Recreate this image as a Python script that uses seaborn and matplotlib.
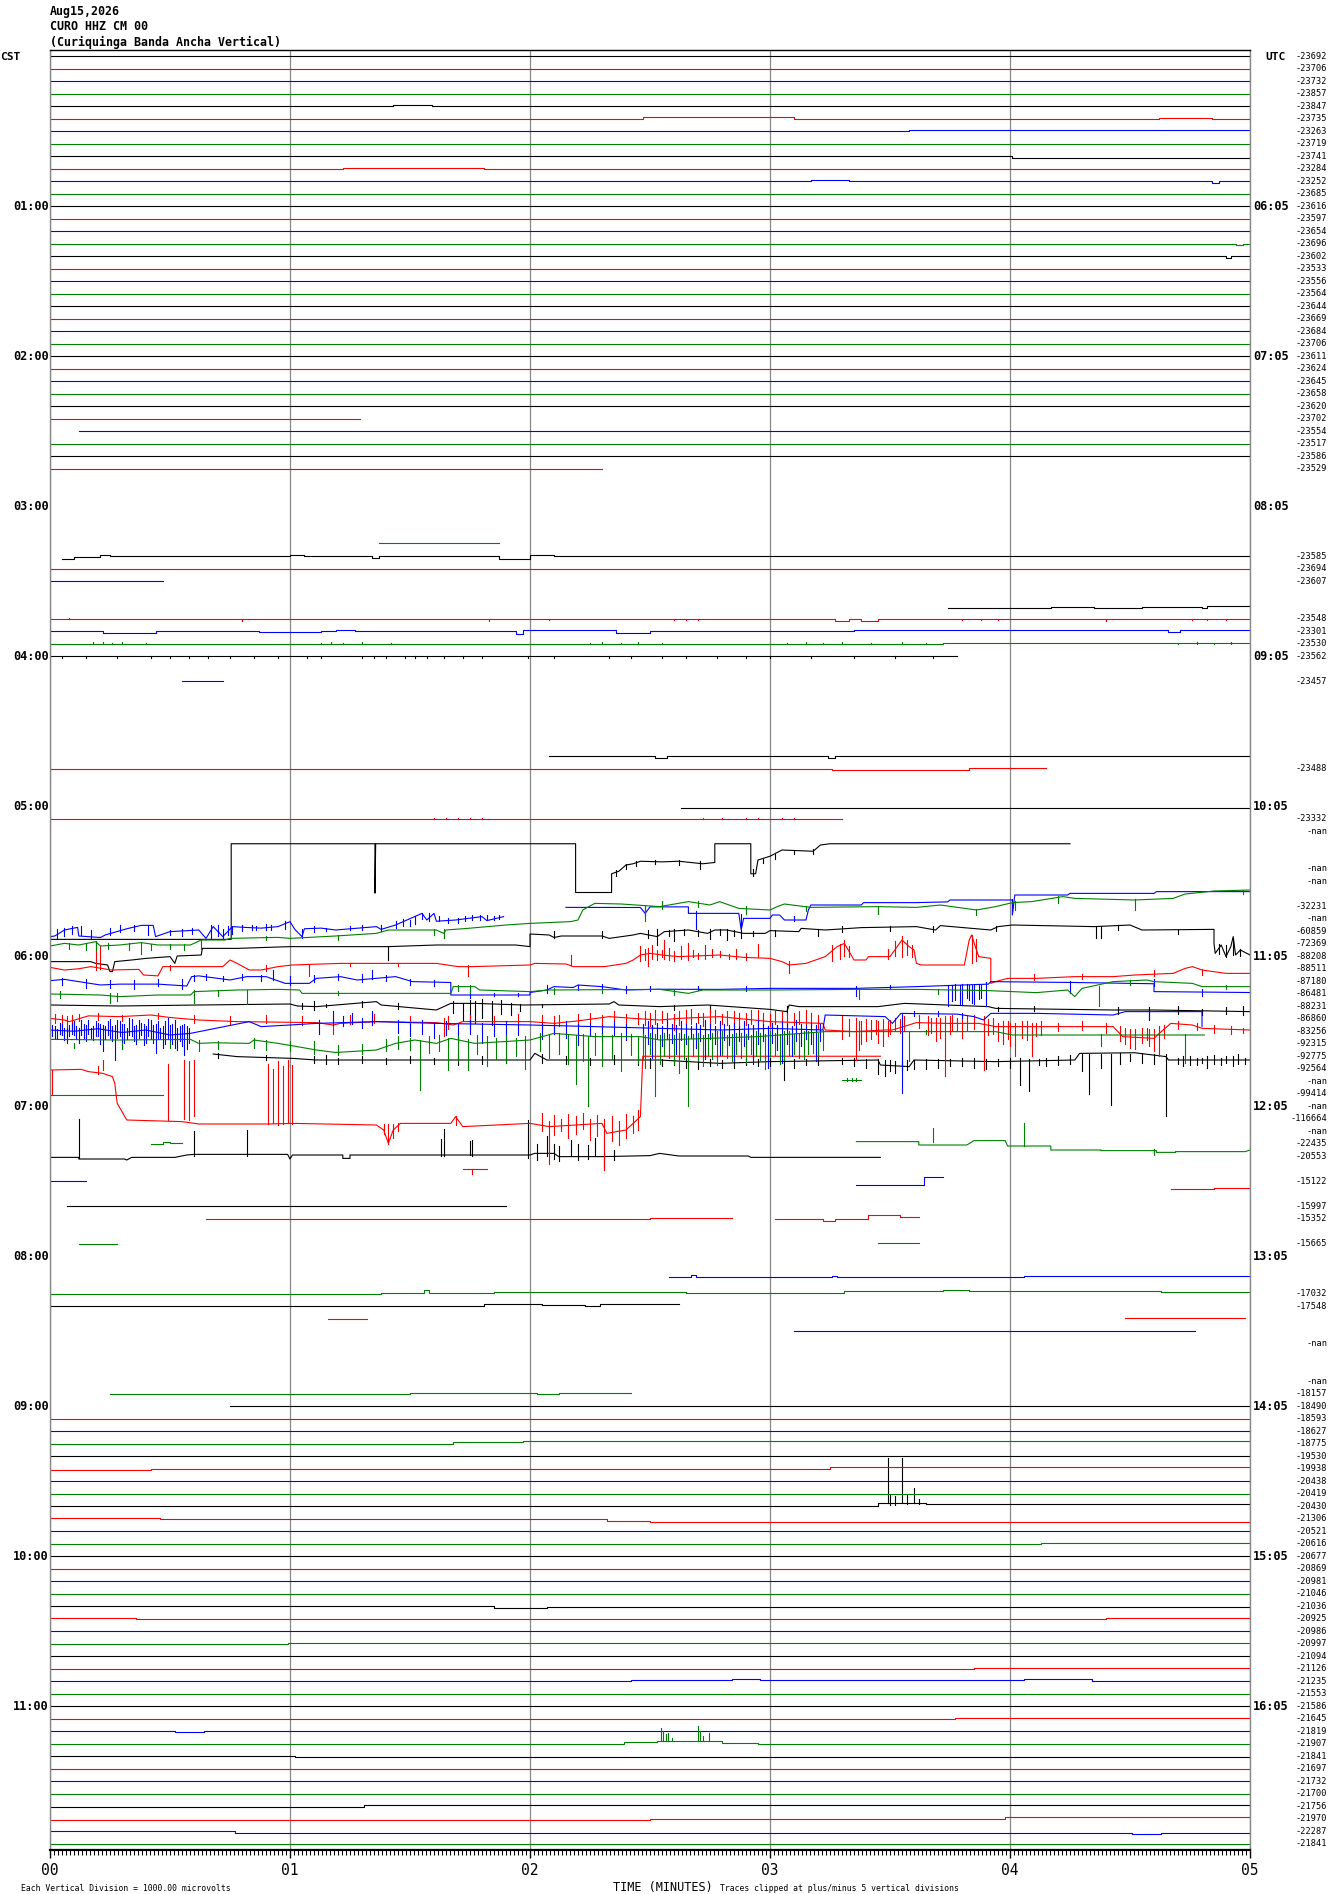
import numpy as np
import pandas as pd
import matplotlib
matplotlib.use("Agg")
import matplotlib.pyplot as plt
import seaborn as sns

W, H = 1330, 1894
MONO = "DejaVu Sans Mono"

title_lines = ["Aug15,2026", "CURO HHZ CM 00", "(Curiquinga Banda Ancha Vertical)"]
cst_labels = ["01:00", "02:00", "03:00", "04:00", "05:00", "06:00", "07:00",
              "08:00", "09:00", "10:00", "11:00"]
utc_labels = ["06:05", "07:05", "08:05", "09:05", "10:05", "11:05", "12:05",
              "13:05", "14:05", "15:05", "16:05"]
minute_labels = ["00", "01", "02", "03", "04", "05"]
trace_colors = ["black", "red", "blue", "green"]

right_values = [
    "-23692", "-23706", "-23732", "-23857", "-23847", "-23735", "-23263", "-23719",
    "-23741", "-23284", "-23252", "-23685", "-23616", "-23597", "-23654", "-23696",
    "-23602", "-23533", "-23556", "-23564", "-23644", "-23669", "-23684", "-23706",
    "-23611", "-23624", "-23645", "-23658", "-23620", "-23702", "-23554", "-23517",
    "-23586", "-23529", "", "", "", "", "", "",
    "-23585", "-23694", "-23607", "", "", "-23548", "-23301", "-23530",
    "-23562", "", "-23457", "", "", "", "", "",
    "", "-23488", "", "", "", "-23332", "-nan", "",
    "", "-nan", "-nan", "", "-32231", "-nan", "-60859", "-72369",
    "-88208", "-88511", "-87180", "-86481", "-88231", "-86860", "-83256", "-92315",
    "-92775", "-92564", "-nan", "-99414", "-nan", "-116664", "-nan", "-22435",
    "-20553", "", "-15122", "", "-15997", "-15352", "", "-15665",
    "", "", "", "-17032", "-17548", "", "", "-nan",
    "", "", "-nan", "-18157", "-18490", "-18593", "-18627", "-18775",
    "-19530", "-19938", "-20438", "-20419", "-20430", "-21306", "-20521", "-20616",
    "-20677", "-20869", "-20981", "-21046", "-21036", "-20925", "-20986", "-20997",
    "-21094", "-21126", "-21235", "-21553", "-21586", "-21645", "-21819", "-21907",
    "-21841", "-21697", "-21732", "-21700", "-21756", "-21970", "-22287", "-21841",
]

# rows that run flat across the whole five minutes
full_rows = [0, 1, 2, 3, 7, 11, 12, 13, 14, 17, 18, 19, 20, 21, 22, 23, 24, 25, 26,
             27, 28, 31, 32, 41, 109, 110, 112, 114, 115, 118, 120, 122, 123, 126,
             128, 131, 132, 137, 138, 139, 143]

# quiet pieces: (row, start minute, end minute, offset in divisions)
quiet_segments = [
    (4, 0, 1.43, 0), (4, 1.43, 1.59, -0.08), (4, 1.59, 5, 0),
    (5, 0, 2.47, 0), (5, 2.47, 3.1, -0.12), (5, 3.1, 4.62, 0), (5, 4.62, 4.84, -0.08), (5, 4.84, 5, 0),
    (6, 0, 3.58, 0), (6, 3.58, 5, -0.1),
    (8, 0, 4.01, 0), (8, 4.01, 5, 0.12),
    (9, 0, 1.22, 0), (9, 1.22, 1.81, -0.1), (9, 1.81, 5, 0),
    (10, 0, 3.17, 0), (10, 3.17, 3.33, -0.08), (10, 3.33, 4.84, 0), (10, 4.84, 4.87, 0.15), (10, 4.87, 5, 0),
    (15, 0, 4.94, 0), (15, 4.94, 4.97, 0.12), (15, 4.97, 5, 0),
    (16, 0, 4.9, 0), (16, 4.9, 4.92, 0.1), (16, 4.92, 5, 0),
    (29, 0, 1.29, 0), (30, 0.12, 5, 0), (33, 0, 2.30, 0),
    (39, 1.37, 1.87, -0.03),
    (40, 0.05, 0.1, 0.18), (40, 0.1, 0.21, 0.05), (40, 0.21, 0.25, -0.08), (40, 0.25, 1.0, 0),
    (40, 1.0, 1.06, -0.08), (40, 1.06, 1.34, 0), (40, 1.34, 1.37, 0.15), (40, 1.37, 1.87, 0),
    (40, 1.87, 2.0, 0.18), (40, 2.0, 2.1, -0.08), (40, 2.1, 5, 0),
    (42, 0, 0.47, 0),
    (44, 3.74, 4.17, 0.17), (44, 4.17, 4.35, 0.03), (44, 4.35, 4.55, 0.17), (44, 4.55, 4.8, 0.03),
    (44, 4.8, 4.82, 0.11), (44, 4.82, 5, 0.0),
    (45, 0, 3.27, 0), (45, 3.27, 3.33, 0.18), (45, 3.33, 3.38, 0.05), (45, 3.38, 3.45, 0.18), (45, 3.45, 5, 0),
    (46, 0, 0.22, 0), (46, 0.22, 0.44, 0.1), (46, 0.44, 0.87, 0), (46, 0.87, 1.13, 0.05),
    (46, 1.13, 1.19, -0.03), (46, 1.19, 1.27, -0.1), (46, 1.27, 1.94, 0), (46, 1.94, 1.97, 0.18),
    (46, 1.97, 2.36, -0.07), (46, 2.36, 2.5, 0.1), (46, 2.5, 3.35, 0), (46, 3.35, 3.52, -0.07),
    (46, 3.52, 4.66, -0.1), (46, 4.66, 4.71, 0.05), (46, 4.71, 5, -0.1),
    (47, 0, 3.72, 0.02), (47, 3.72, 5, -0.03),
    (48, 0, 3.78, 0),
    (50, 0.55, 0.72, 0),
    (56, 2.08, 2.52, 0), (56, 2.52, 2.57, 0.15), (56, 2.57, 3.24, 0), (56, 3.24, 3.27, 0.15), (56, 3.27, 5, 0),
    (57, 0, 3.26, 0.05), (57, 3.26, 3.83, 0.1), (57, 3.83, 4.15, -0.05),
    (60, 2.63, 5, 0.1),
    (61, 0, 3.30, 0),
    (83, 0, 0.47, 0.1), (83, 3.30, 3.38, -1.1),
    (87, 0.42, 0.47, 0.0), (87, 0.47, 0.50, -0.12), (87, 0.50, 0.55, -0.05),
    (89, 1.72, 1.82, 0.05),
    (90, 0, 0.15, 0), (90, 3.36, 3.64, 0.3), (90, 3.64, 3.72, -0.37),
    (92, 0.07, 1.90, 0),
    (93, 0.65, 2.5, 0.0), (93, 2.5, 2.84, -0.05), (93, 3.02, 3.22, 0.0), (93, 3.22, 3.27, 0.15),
    (93, 3.27, 3.41, 0.0), (93, 3.41, 3.54, -0.27), (93, 3.54, 3.62, -0.13), (93, 4.67, 4.85, -2.38),
    (93, 4.85, 5.0, -2.45),
    (95, 0.12, 0.28, 0), (95, 3.45, 3.62, -0.05),
    (98, 2.58, 2.67, -0.37), (98, 2.67, 2.69, -0.47), (98, 2.69, 3.26, -0.37), (98, 3.26, 3.28, -0.45),
    (98, 3.28, 4.06, -0.37), (98, 4.06, 4.3, -0.42), (98, 4.3, 5, -0.43),
    (99, 0, 1.38, 0.02), (99, 1.38, 1.56, -0.1), (99, 1.56, 1.58, -0.3), (99, 1.58, 1.85, -0.09),
    (99, 1.85, 2.65, -0.14), (99, 2.65, 3.18, -0.03), (99, 3.18, 3.31, -0.1), (99, 3.31, 3.72, -0.19),
    (99, 3.72, 3.83, -0.3), (99, 3.83, 4.63, -0.22), (99, 4.63, 5, -0.11),
    (100, 0, 1.81, 0), (100, 1.81, 2.05, -0.2), (100, 2.05, 2.23, -0.12), (100, 2.23, 2.29, -0.05),
    (100, 2.29, 2.62, -0.2),
    (101, 1.16, 1.32, 0.0), (101, 4.48, 4.98, -0.05),
    (102, 3.10, 3.36, 0.0), (102, 3.36, 3.60, -0.05), (102, 3.60, 4.36, 0.0), (102, 4.36, 4.77, -0.05),
    (107, 0.25, 1.50, 0.02), (107, 1.50, 2.03, -0.03), (107, 2.03, 2.12, 0.03), (107, 2.12, 2.42, -0.03),
    (108, 0.75, 5, 0),
    (111, 0, 1.68, 0.02), (111, 1.68, 1.97, -0.11), (111, 1.97, 5, -0.19),
    (113, 0, 0.42, 0.1), (113, 0.42, 3.25, 0), (113, 3.25, 5, -0.11),
    (116, 0, 3.45, 0), (116, 3.45, 3.65, -0.27), (116, 3.65, 3.96, -0.22), (116, 3.96, 5, -0.2),
    (117, 0, 0.46, -0.09), (117, 0.46, 2.32, 0.05), (117, 2.32, 2.50, 0.15), (117, 2.50, 5, 0.29),
    (119, 0, 4.13, 0), (119, 4.13, 5, -0.05),
    (121, 0, 3.46, 0.05), (121, 3.46, 5, 0),
    (124, 0, 1.85, 0), (124, 1.85, 2.07, 0.17), (124, 2.07, 5, 0.09),
    (125, 0, 0.36, -0.03), (125, 0.36, 4.40, 0.05), (125, 4.40, 5, -0.03),
    (127, 0, 0.99, 0.02), (127, 0.99, 5, -0.04),
    (129, 0, 3.85, 0.05), (129, 3.85, 5, -0.03),
    (130, 0, 2.42, 0.01), (130, 2.42, 2.84, -0.1), (130, 2.84, 2.96, -0.21), (130, 2.96, 4.06, -0.1),
    (130, 4.06, 4.34, -0.15), (130, 4.34, 5, -0.05),
    (133, 0, 3.77, 0.02), (133, 3.77, 5, -0.03),
    (134, 0, 0.16, 0.0), (134, 0.16, 0.52, -0.04), (134, 0.52, 0.64, 0.05), (134, 0.64, 2.21, 0.0),
    (134, 2.21, 2.31, -0.06), (134, 2.31, 5, 0.0),
    (135, 0, 2.39, 0.02), (135, 2.39, 2.53, -0.12), (135, 2.53, 2.80, -0.2), (135, 2.80, 2.95, -0.05),
    (135, 2.95, 5, 0.02),
    (136, 0, 1.0, 0), (136, 1.0, 1.02, -0.06), (136, 1.02, 1.70, 0.02), (136, 1.70, 1.80, 0.07),
    (136, 1.80, 5, 0.05),
    (140, 0, 1.31, 0.03), (140, 1.31, 5, -0.07),
    (141, 0, 2.50, 0.1), (141, 2.50, 3.98, 0.0), (141, 3.98, 5, -0.14),
    (142, 0, 0.77, -0.02), (142, 0.77, 4.51, 0.17), (142, 4.51, 4.63, 0.25), (142, 4.63, 5, 0.17),
]

# wandering traces: (minute, offset in divisions)
trace_68 = [(0.0, 2.65), (0.755, 2.65), (0.755, -5.0), (1.354, -5.0), (1.354, -1.05), (1.357, -5.0),
            (2.19, -5.0), (2.19, -1.1), (2.34, -1.1), (2.34, -2.6), (2.37, -2.8), (2.40, -3.3),
            (2.43, -3.4), (2.46, -3.6), (2.55, -3.55), (2.62, -3.6), (2.67, -3.5), (2.72, -3.4),
            (2.77, -3.5), (2.77, -5.0), (2.92, -5.0), (2.92, -2.6), (2.94, -2.6), (2.95, -3.7),
            (3.0, -4.0), (3.05, -4.5), (3.18, -4.4), (3.21, -4.9), (3.25, -5.0), (4.25, -5.0)]
trace_70 = [(0.0, 0.43), (0.02, 0.38), (0.06, -0.1), (0.115, -0.31), (0.12, 0.38), (0.21, 0.5),
            (0.23, 0.3), (0.32, -0.2), (0.38, -0.47), (0.43, -0.47), (0.44, 0.43), (0.5, 0.03),
            (0.62, -0.1), (0.65, 0.57), (0.68, -0.37), (0.72, 0.43), (0.76, -0.37), (0.82, -0.3),
            (0.88, -0.25), (0.95, -0.37), (1.0, -0.77), (1.02, -0.15), (1.05, 0.43), (1.06, -0.2),
            (1.13, -0.25), (1.19, -0.1), (1.36, -0.37), (1.38, -0.15), (1.44, -0.5), (1.55, -1.43),
            (1.57, -0.9), (1.6, -1.43), (1.61, -0.8), (1.69, -0.9), (1.8, -1.17), (1.82, -0.85),
            (1.89, -1.17)]
trace_70b = [(2.15, -1.91), (2.46, -1.9), (2.48, -1.43), (2.5, -1.95), (2.66, -1.95), (2.66, -1.43),
             (2.87, -1.43), (2.88, -0.1), (2.89, -1.03), (3.0, -1.03), (3.01, -1.3), (3.04, -1.3),
             (3.06, -0.9), (3.15, -0.9), (3.16, -1.7), (3.17, -2.1), (3.38, -2.1), (3.39, -2.29),
             (3.61, -2.29), (3.74, -2.35), (3.75, -2.5), (4.01, -2.5), (4.01, -1.3), (4.02, -2.9),
             (4.24, -2.9), (4.25, -3.03), (4.6, -3.03), (4.61, -3.17), (5.0, -3.17)]
trace_71 = [(0.0, 0.18), (0.06, -0.03), (0.12, 0.1), (0.19, -0.17), (0.21, 0.18), (0.29, 0.1),
            (0.38, -0.09), (0.45, 0.1), (0.585, 0.1), (0.63, -0.3), (0.73, -0.3), (0.75, -0.43),
            (0.95, -0.51), (1.0, -0.43), (1.08, -0.51), (1.19, -0.62), (1.36, -0.83), (1.41, -1.1),
            (1.61, -1.1), (1.64, -0.83), (1.65, -1.1), (1.74, -1.23), (1.9, -1.5), (2.0, -1.63),
            (2.17, -1.77), (2.2, -1.9), (2.22, -2.7), (2.27, -3.23), (2.38, -3.18), (2.54, -2.97),
            (2.66, -3.37), (2.75, -3.1), (2.79, -3.37), (2.87, -2.83), (3.0, -2.7), (3.03, -2.97),
            (3.06, -3.18), (3.17, -2.91), (3.45, -2.97), (3.61, -2.91), (3.71, -3.1), (3.86, -2.7),
            (3.94, -2.97), (4.01, -3.29), (4.09, -3.37), (4.22, -3.77), (4.27, -3.63), (4.52, -3.5),
            (4.68, -3.63), (4.73, -3.98), (4.85, -4.22), (5.0, -4.3)]
trace_72 = [(0.0, 0.43), (0.17, 0.43), (0.19, 0.57), (0.24, 0.7), (0.25, 1.23), (0.26, 1.23),
            (0.27, 0.43), (0.34, 0.3), (0.4, 0.17), (0.5, 0.03), (0.52, 0.57), (0.53, -0.02),
            (0.63, -0.1), (0.635, -0.63), (0.78, -0.63), (1.0, -0.77), (1.41, -0.77), (1.61, -0.9),
            (1.94, -0.9), (2.0, -0.77), (2.0, -1.78), (2.08, -1.7), (2.1, -1.5), (2.13, -1.62),
            (2.3, -1.62), (2.33, -1.43), (2.43, -1.7), (2.46, -1.83), (2.53, -1.57), (2.56, -1.97),
            (2.66, -2.1), (2.74, -1.83), (2.77, -2.1), (2.82, -2.1), (2.89, -1.83), (2.98, -1.83),
            (3.0, -2.05), (3.12, -1.97), (3.13, -2.23), (3.23, -2.1), (3.38, -2.29), (3.61, -2.37),
            (3.69, -2.1), (3.71, -2.45), (3.92, -2.1), (3.95, -2.37), (4.01, -2.5), (4.35, -2.37),
            (4.5, -2.5), (4.55, -2.1), (4.85, -2.15), (4.85, -1.03), (4.855, -0.23), (4.88, -0.9),
            (4.9, 0.03), (4.92, -0.77), (4.93, -1.57), (4.94, -0.1), (4.96, -0.5), (5.0, -0.1)]
trace_73 = [(0.0, -0.11), (0.06, 0.1), (0.12, 0.0), (0.17, -0.17), (0.255, 0.1), (0.37, 0.05),
            (0.39, 0.5), (0.45, 0.57), (0.47, -0.17), (0.72, -0.17), (0.75, -0.7), (0.78, -0.43),
            (0.83, 0.1), (0.88, 0.1), (0.95, -0.17), (1.01, -0.3), (1.21, -0.43), (1.61, -0.43),
            (1.7, -0.17), (1.76, -0.17), (2.0, -0.3), (2.02, -0.43), (2.15, -0.38), (2.18, -0.17),
            (2.31, -0.17), (2.4, -0.43), (2.43, -0.7), (2.46, -1.1), (2.5, -1.23), (2.55, -1.1),
            (2.62, -0.97), (2.79, -1.1), (2.89, -0.91), (3.0, -0.83), (3.05, -0.57), (3.08, -0.3),
            (3.15, -0.43), (3.19, -0.7), (3.23, -0.97), (3.28, -1.77), (3.31, -2.03), (3.33, -1.37),
            (3.35, -0.7), (3.4, -0.7), (3.41, -0.97), (3.5, -0.97), (3.53, -1.77), (3.55, -2.3),
            (3.58, -1.77), (3.6, -1.5), (3.61, -0.43), (3.63, -0.3), (3.81, -0.3), (3.83, -2.3),
            (3.84, -2.7), (3.86, -1.5), (3.87, -0.97), (3.92, -0.83), (3.92, 1.17), (3.94, 1.03),
            (3.99, 0.77), (4.11, 0.77), (4.27, 0.63), (4.43, 0.63), (4.52, 0.5), (4.68, 0.37),
            (4.73, -0.03), (4.76, -0.17), (4.8, 0.1), (4.9, 0.37), (5.0, 0.37)]
trace_74 = [(0.0, -0.05), (0.06, -0.15), (0.12, 0.03), (0.21, 0.3), (0.29, 0.23), (0.45, 0.23),
            (0.57, 0.38), (0.59, -0.37), (0.62, -0.43), (0.7, -0.23), (0.75, -0.1), (0.82, -0.37),
            (0.9, -0.37), (0.98, 0.17), (1.08, 0.17), (1.11, -0.23), (1.21, -0.37), (1.28, -0.1),
            (1.44, -0.37), (1.51, 0.03), (1.67, 0.1), (1.67, 1.1), (2.0, 1.1), (2.0, 0.9),
            (2.07, 0.7), (2.1, 0.43), (2.18, 0.5), (2.2, 0.3), (2.3, 0.43), (2.4, 0.7), (2.54, 0.64),
            (2.79, 0.65), (3.0, 0.57), (3.36, 0.57), (3.61, 0.43), (3.91, 0.23), (3.92, 0.03),
            (4.27, 0.1), (4.6, 0.2), (4.6, 0.83), (5.0, 0.9)]
trace_75 = [(0.0, 0.02), (0.21, 0.1), (0.29, 0.23), (0.45, 0.1), (0.585, 0.1), (0.6, -0.17),
            (0.78, -0.3), (0.95, -0.35), (1.04, -0.3), (1.05, -0.03), (1.67, -0.03), (1.68, -0.57),
            (1.77, -0.57), (1.79, -0.3), (2.0, -0.17), (2.08, -0.3), (2.54, -0.35), (2.66, -0.03),
            (2.72, -0.3), (3.0, -0.3), (3.36, -0.35), (3.61, -0.35), (3.91, -0.25), (4.11, -0.09),
            (4.24, -0.3), (4.27, 0.23), (4.3, -0.43), (4.43, -0.97), (4.57, -1.1), (4.6, -0.97),
            (4.76, -0.83), (4.8, -0.57), (5.0, -0.57)]
trace_76 = [(0.0, -0.1), (0.29, -0.02), (0.62, -0.1), (1.0, -0.18), (1.03, -0.02), (1.11, 0.03),
            (1.36, -0.37), (1.38, -0.1), (1.61, 0.3), (1.67, -0.23), (1.77, -0.23), (1.97, -0.1),
            (2.33, -0.18), (2.35, -0.37), (2.37, -0.1), (2.54, 0.03), (2.74, -0.1), (3.0, 0.25),
            (3.07, 0.43), (3.08, -0.1), (3.12, 0.03), (3.45, 0.03), (3.56, -0.23), (3.91, 0.03),
            (3.94, 0.17), (4.43, 0.3), (4.6, 0.3), (5.0, 0.43)]
trace_77 = [(0.0, -0.03), (0.06, 0.1), (0.08, 0.23), (0.16, -0.23), (0.29, -0.17), (0.42, -0.3),
            (0.5, -0.1), (0.62, 0.1), (0.78, 0.23), (1.11, 0.31), (1.18, 0.5), (1.21, 0.37),
            (1.36, 0.23), (1.61, 0.31), (1.68, 0.5), (1.72, 0.23), (2.0, 0.23), (2.1, 0.37),
            (2.2, 0.17), (2.33, -0.17), (2.43, -0.03), (2.54, 0.1), (2.62, -0.03), (2.79, -0.17),
            (3.0, 0.23), (3.22, 0.37), (3.23, 0.9), (3.35, 1.03), (3.48, 0.9), (3.51, 0.9),
            (3.61, 0.31), (3.73, 0.37), (3.87, 0.37), (3.94, 0.63), (4.43, 0.63), (4.47, 1.43),
            (4.6, 1.57), (4.62, 1.2), (4.67, 0.37), (4.76, 0.5), (4.8, 0.77), (5.0, 0.9)]
trace_78 = [(0.0, -0.1), (0.1, 0.0), (0.2, -0.2), (0.3, 0.1), (0.4, -0.1), (0.5, 0.3), (0.585, 0.17),
            (0.83, -0.77), (0.88, -0.37), (1.0, -0.5), (1.11, -0.63), (1.36, -0.77), (1.61, -0.63),
            (2.0, -0.5), (2.27, -0.37), (2.54, -0.23), (2.8, -0.1), (3.0, -0.23), (3.22, -0.1),
            (3.23, -1.3), (3.48, -1.17), (3.51, -0.63), (3.545, -1.43), (3.78, -1.37), (3.85, -1.17),
            (3.89, -0.9), (3.92, -1.43), (4.11, -1.43), (4.43, -1.3), (4.48, -1.57), (4.8, -1.57),
            (4.8, -0.37)]
trace_79 = [(0.0, -0.35), (0.29, -0.3), (0.585, -0.35), (0.62, -0.03), (0.68, -0.08), (0.83, -0.03),
            (0.85, -0.3), (0.95, -0.03), (1.03, 0.23), (1.11, 0.5), (1.19, 0.7), (1.36, 0.5),
            (1.44, -0.03), (1.52, -0.3), (1.61, -0.03), (1.67, -0.43), (1.77, -0.03), (2.0, -0.3),
            (2.1, -0.83), (2.27, -0.57), (2.46, -0.57), (2.54, -0.3), (2.7, -0.4), (2.95, -0.57),
            (3.23, -0.97), (3.94, -0.97), (4.01, -0.7), (4.81, -0.7)]
trace_80 = [(0.68, -0.18), (0.78, 0.03), (1.01, 0.17), (1.11, 0.3), (1.61, 0.3), (2.0, 0.3),
            (2.02, -0.23), (2.07, 0.3), (2.54, 0.3), (2.79, 0.57), (3.0, 0.43), (3.45, 0.3),
            (3.46, 0.7), (3.58, 0.83), (3.6, 0.3), (3.94, 0.43), (4.27, 0.3), (4.29, -0.23),
            (4.52, -0.28), (4.65, 0.03), (4.66, 0.3), (5.0, 0.3)]
trace_85 = [(0.0, -3.9), (0.13, -3.95), (0.16, -3.77), (0.22, -3.63), (0.26, -3.37), (0.27, -2.83),
            (0.28, -1.23), (0.3, -0.57), (0.32, 0.1), (0.55, 0.23), (0.62, 0.42), (0.91, 0.42),
            (1.01, 0.37), (1.36, 0.5), (1.39, 0.9), (1.41, 1.97), (1.43, 0.9), (1.46, 0.37),
            (1.67, 0.37), (1.69, -0.17), (1.72, 0.63), (2.0, 0.37), (2.08, 0.63), (2.3, 0.37),
            (2.32, 1.17), (2.4, 0.9), (2.46, -0.17), (2.47, -5.0), (3.46, -5.0)]
trace_87 = [(3.36, -0.17), (3.62, -0.17), (3.62, 0.1), (3.82, 0.1), (3.85, -0.25), (3.98, -0.25),
            (3.99, 0.18), (4.17, 0.18), (4.17, 0.5), (4.38, 0.5), (4.38, 0.55), (4.61, 0.55),
            (4.61, 0.69), (4.69, 0.69), (4.69, 0.63), (4.98, 0.63), (5.0, 0.5)]
trace_88 = [(0.0, 0.09), (0.12, 0.09), (0.12, 0.22), (0.31, 0.22), (0.32, 0.3), (0.34, 0.09),
            (0.52, 0.09), (0.57, -0.1), (0.6, -0.15), (0.99, -0.15), (1.0, 0.22), (1.01, -0.1),
            (1.22, -0.1), (1.22, 0.17), (1.25, 0.17), (1.25, -0.1), (2.0, -0.1), (2.02, -0.23),
            (2.1, -0.23), (2.12, 0.03), (2.3, 0.03), (2.5, -0.05), (2.54, -0.23), (2.62, -0.02),
            (2.91, -0.02), (2.92, 0.09), (3.46, 0.09)]

# spikes: (minute, low offset, high offset)
spikes_45 = [(0.08, -0.08, 0.0), (0.8, 0.0, 0.15), (1.83, 0.0, 0.15), (2.08, 0.0, 0.12), (2.6, 0.0, 0.1),
             (2.65, 0.0, 0.12), (2.7, 0.0, 0.1), (3.8, 0.0, 0.12), (3.88, 0.0, 0.1), (3.95, 0.0, 0.12),
             (4.4, 0.0, 0.15), (4.76, 0.0, 0.12), (4.82, 0.0, 0.12), (4.9, 0.0, 0.1)]
spikes_47 = [(0.18, -0.12, 0.0), (0.22, -0.12, 0.0), (0.26, -0.1, 0.0), (0.3, -0.12, 0.0), (0.4, -0.08, 0.0),
             (1.13, -0.1, 0.0), (1.17, -0.12, 0.0), (1.22, -0.1, 0.0), (1.3, -0.12, 0.0), (1.42, -0.1, 0.0),
             (2.25, -0.1, 0.0), (2.3, -0.12, 0.0), (2.38, -0.1, 0.0), (2.45, -0.12, 0.0), (2.55, -0.1, 0.0),
             (3.07, -0.1, 0.0), (3.15, -0.12, 0.0), (3.22, -0.1, 0.0), (3.3, -0.12, 0.0), (3.42, -0.1, 0.0),
             (3.55, -0.12, 0.0), (3.65, -0.1, 0.0), (4.7, -0.1, 0.0), (4.78, -0.12, 0.0), (4.85, -0.1, 0.0),
             (4.92, -0.12, 0.0)]
spikes_48 = [(0.05, 0, 0.15), (0.15, 0, 0.15), (0.28, 0, 0.15), (0.42, 0, 0.15), (0.5, 0, 0.15),
             (0.58, 0, 0.15), (0.66, 0, 0.15), (0.75, 0, 0.15), (0.85, 0, 0.15), (0.95, 0, 0.15),
             (1.07, 0, 0.15), (1.13, 0, 0.15), (1.3, 0, 0.15), (1.35, 0, 0.15), (1.4, 0, 0.15),
             (1.48, 0, 0.15), (1.52, 0, 0.15), (1.57, 0, 0.15), (1.64, 0, 0.15), (1.72, 0, 0.15),
             (1.8, 0, 0.15), (1.99, 0, 0.15), (2.1, 0, 0.15), (2.33, 0, 0.15), (2.42, 0, 0.15),
             (2.55, 0, 0.15), (2.65, 0, 0.15), (2.78, 0, 0.15), (2.9, 0, 0.15), (3.0, 0, 0.15),
             (3.17, 0, 0.15), (3.35, 0, 0.15), (3.52, 0, 0.15), (3.68, 0, 0.15)]
spikes_61 = [(1.6, -0.08, 0), (1.65, -0.08, 0), (1.7, -0.1, 0), (1.75, -0.08, 0), (1.8, -0.1, 0),
             (2.72, -0.08, 0), (2.8, -0.1, 0), (2.9, -0.08, 0), (2.95, -0.1, 0), (3.05, -0.08, 0),
             (3.1, -0.1, 0)]
spikes_68 = [(2.36, -2.9, -2.4), (2.4, -3.4, -3.0), (2.44, -3.6, -3.2), (2.52, -3.7, -3.4),
             (2.62, -3.7, -3.3), (2.71, -3.6, -3.0), (2.93, -3.0, -2.4), (2.97, -3.8, -3.5),
             (3.02, -4.2, -3.8), (3.1, -4.5, -4.2), (3.18, -4.6, -4.2)]
spikes_70 = [(0.06, -0.3, 0.4), (0.13, -0.4, 0.3), (0.25, -0.3, 0.3), (0.35, -0.5, 0.0), (0.5, -0.1, 0.3),
             (0.67, -0.5, 0.5), (0.72, -0.2, 0.5), (0.76, -0.4, 0.2), (0.8, -0.5, 0.0), (0.86, -0.4, -0.1),
             (0.92, -0.5, -0.1), (0.98, -0.8, -0.2), (1.05, -0.2, 0.5), (1.15, -0.3, 0.0), (1.25, -0.4, -0.1),
             (1.38, -0.5, 0.0), (1.44, -0.8, -0.3), (1.5, -0.9, -0.4), (1.55, -1.5, -1.0), (1.62, -1.2, -0.8),
             (1.7, -1.1, -0.7), (1.76, -1.3, -0.9), (1.82, -1.3, -0.9), (1.87, -1.3, -1.0), (2.48, -2.0, -1.2),
             (2.69, -1.6, -0.2), (2.88, -1.4, -0.4), (3.1, -1.2, -0.8), (4.01, -2.6, -1.4),
             (0.03, -0.2, 0.5), (0.09, -0.4, 0.2), (0.17, -0.1, 0.5), (0.29, -0.5, 0.1), (0.41, -0.4, 0.3),
             (0.55, -0.2, 0.4), (0.59, -0.3, 0.2), (0.7, -0.5, 0.4), (0.74, -0.4, 0.3), (0.84, -0.5, -0.1),
             (0.9, -0.6, -0.1), (1.1, -0.4, 0.1), (1.3, -0.5, -0.1), (1.47, -1.0, -0.4), (1.52, -1.2, -0.6),
             (1.58, -1.5, -0.8), (1.66, -1.1, -0.7), (1.73, -1.2, -0.8), (1.79, -1.3, -0.9), (1.85, -1.2, -0.9)]
spikes_71 = [(0.19, -0.2, 0.6), (0.38, -0.1, 0.8), (0.63, -0.3, 0.4), (0.9, -0.6, -0.3), (1.2, -0.7, -0.3),
             (1.6, -1.2, -0.7), (1.64, -1.2, -0.5), (2.48, -3.0, -1.8), (2.55, -3.4, -2.8), (2.7, -3.4, -2.9),
             (2.9, -3.0, -2.4), (3.15, -3.0, -2.6), (3.45, -3.0, -2.4), (3.86, -2.8, -2.3), (4.02, -3.4, -2.7),
             (4.2, -3.8, -3.3), (4.52, -3.6, -2.7), (4.97, -4.3, -4.0),
             (0.08, -0.1, 0.4), (0.15, -0.1, 0.5), (0.24, -0.1, 0.4), (0.33, -0.1, 0.5), (0.42, 0.0, 0.5),
             (0.5, 0.0, 0.4), (0.56, 0.0, 0.5)]
spikes_72 = [(1.41, -0.8, 0.3), (2.1, -2.0, -1.5), (2.3, -2.0, -1.5), (2.53, -2.2, -0.9), (2.6, -2.2, -1.2),
             (2.75, -2.2, -1.4), (2.82, -2.2, -1.3), (2.88, -2.1, -1.5), (3.02, -2.1, -1.6), (3.2, -2.2, -1.6),
             (3.3, -2.4, -1.9), (3.5, -2.4, -2.0), (3.68, -2.4, -1.9), (3.94, -2.4, -2.0), (4.36, -2.4, -1.5),
             (4.38, -2.4, -1.5), (4.45, -2.5, -2.1), (4.7, -2.1, -1.8), (4.87, -1.0, -0.2), (4.9, -0.9, 0.1),
             (4.93, -1.5, -0.1), (4.96, -0.6, 0.0),
             (2.49, -2.1, -1.5), (2.58, -2.1, -1.6), (2.64, -2.2, -1.7), (2.7, -2.1, -1.6), (2.79, -2.2, -1.7),
             (2.85, -2.1, -1.6), (2.93, -2.0, -1.6)]
spikes_73 = [(0.19, -2.0, 0.1), (0.21, -1.8, 0.0), (0.5, -0.3, 0.1), (0.9, -0.3, 0.2), (1.08, -0.4, 0.6),
             (1.25, -0.5, -0.2), (1.45, -0.5, -0.2), (1.74, -0.3, 0.6), (2.17, -1.1, -0.3), (2.46, -1.8, -0.6),
             (2.49, -1.7, -0.2), (2.53, -1.5, -0.7), (2.56, -2.3, -0.8), (2.6, -1.4, -0.6), (2.66, -2.1, -0.7),
             (2.7, -1.3, -0.8), (2.76, -1.6, -0.9), (2.83, -1.2, -0.8), (2.95, -2.0, -0.9), (3.08, -0.6, 0.3),
             (3.26, -1.9, -0.6), (3.29, -2.0, -0.8), (3.31, -2.3, -1.0), (3.33, -1.8, -0.9), (3.49, -1.6, -0.8),
             (3.52, -2.2, -1.0), (3.55, -2.6, -0.9), (3.57, -2.3, -1.1), (3.59, -1.9, -0.9), (3.84, -2.7, -0.5),
             (3.86, -2.4, -0.6), (4.1, 0.4, 0.9), (4.3, 0.4, 0.8), (4.6, 0.1, 0.6), (4.8, 0.0, 0.5),
             (2.48, -1.6, -0.7), (2.51, -1.9, -0.8), (2.55, -1.5, -0.9), (2.58, -1.7, -0.7), (2.63, -1.8, -0.8),
             (2.68, -1.5, -0.9), (2.73, -1.9, -0.8), (2.79, -1.4, -0.9), (2.86, -1.6, -0.8), (2.9, -1.3, -0.7)]
spikes_74 = [(0.05, -0.3, 0.3), (0.15, -0.2, 0.5), (0.25, -0.1, 0.5), (0.35, -0.1, 0.6), (0.45, -0.2, 0.4),
             (0.55, -0.2, 0.6), (0.6, -0.5, 0.0), (0.65, -0.6, -0.1), (0.72, -0.4, 0.0), (0.8, -0.6, -0.1),
             (0.88, -0.5, 0.0), (0.93, -0.9, -0.1), (1.0, -0.4, 0.3), (1.1, -0.5, 0.1), (1.2, -0.6, -0.1),
             (1.3, -0.6, 0.1), (1.34, -0.9, -0.2), (1.4, -0.5, 0.0), (1.5, -0.2, 0.3), (1.6, -0.1, 0.4),
             (1.75, 0.8, 1.3), (1.85, 0.9, 1.2), (1.95, 0.9, 1.2), (2.07, 0.3, 0.9), (2.2, 0.3, 0.7),
             (2.3, 0.2, 0.6), (2.4, 0.4, 0.9), (2.5, 0.4, 0.8), (2.7, 0.4, 0.7), (2.9, 0.4, 0.8),
             (3.36, 0.4, 1.2), (3.5, 0.3, 0.6), (3.74, 0.3, 2.0), (3.77, 0.2, 1.5), (3.79, 0.3, 1.8),
             (3.82, 0.2, 1.3), (3.84, 0.3, 1.7), (3.87, 0.2, 1.4), (3.9, 0.1, 2.0), (4.25, 0.0, 0.9),
             (4.6, -0.2, 0.4), (4.8, 0.6, 1.2),
             (3.76, 0.3, 1.6), (3.8, 0.2, 1.9), (3.83, 0.3, 1.5), (3.85, 0.2, 1.8), (3.88, 0.3, 1.3)]
spikes_75 = [(0.04, -0.2, 0.3), (0.25, -0.1, 0.7), (0.28, -0.1, 0.6), (0.6, -0.3, 0.7), (0.7, -0.3, 0.2),
             (0.82, -0.3, 0.8), (1.2, -0.2, 0.1), (1.7, -0.7, -0.2), (1.75, -0.7, -0.1), (2.1, -0.5, 0.0),
             (2.3, -0.4, -0.1), (2.6, -0.3, 0.1), (3.37, -0.4, 0.4), (3.7, -0.4, 0.0), (4.37, -0.6, 1.0),
             (4.5, -1.1, -0.7), (4.9, -0.7, -0.4)]
spikes_76 = [(1.05, -0.3, 0.2), (1.1, -0.4, 0.3), (1.15, -0.2, 0.1), (1.3, -0.4, 0.1), (1.45, -0.3, 0.2),
             (1.68, -0.4, 0.5), (1.72, -0.3, 1.1), (1.75, -0.5, 1.7), (1.77, -0.4, 1.3), (1.8, -0.6, 0.9),
             (1.84, -0.4, 1.5), (1.88, -0.5, 0.6), (1.92, -0.3, 0.7), (1.96, -0.2, 0.4), (2.05, -0.2, 0.1),
             (2.6, -0.1, 0.3), (2.75, -0.1, 0.5), (3.07, 0.0, 0.6), (3.95, 0.1, 0.4), (4.1, 0.0, 0.4),
             (4.45, 0.1, 0.6), (4.58, 0.1, 1.0), (4.7, 0.0, 0.6), (4.8, 0.2, 0.7), (4.9, 0.1, 0.6),
             (4.97, 0.0, 0.7)]
spikes_77 = [(0.02, -0.4, 0.3), (0.05, -0.3, 0.5), (0.07, -0.2, 1.0), (0.09, -0.3, 0.9), (0.12, -0.4, 0.2),
             (0.2, -0.5, 0.1), (0.3, -0.3, 0.2), (0.45, -0.5, 0.0), (0.6, -0.3, 0.3), (0.75, -0.2, 0.4),
             (0.9, -0.3, 0.3), (1.05, -0.2, 0.5), (1.18, -0.1, 1.2), (1.25, -0.3, 0.4), (1.35, -0.4, 0.3),
             (1.5, -0.2, 0.4), (1.64, -0.1, 1.4), (1.66, -0.2, 0.8), (1.75, -0.3, 0.4), (1.85, -0.2, 0.5),
             (1.95, -0.4, 0.3), (2.05, -0.3, 0.8), (2.1, -0.2, 1.2), (2.12, -0.3, 0.6), (2.2, -0.4, 0.5),
             (2.25, -0.5, 0.3), (2.3, -0.3, 0.6), (2.35, -0.6, 0.2), (2.4, -0.4, 0.7), (2.45, -0.5, 0.4),
             (2.5, -0.5, 0.6), (2.55, -0.6, 0.3), (2.6, -0.4, 0.9), (2.65, -0.7, 0.5), (2.7, -0.5, 0.3),
             (2.75, -0.8, 0.6), (2.8, -0.4, 0.4), (2.85, -0.6, 0.7), (2.9, -0.5, 0.5), (2.95, -0.7, 0.4),
             (3.0, -0.4, 0.6), (3.05, -0.6, 0.3), (3.1, -0.5, 0.5), (3.15, -0.7, 0.4), (3.2, -0.3, 0.8),
             (3.3, -0.2, 1.6), (3.36, -0.1, 3.3), (3.38, 0.2, 2.0), (3.4, 0.0, 1.8), (3.44, 0.1, 1.2),
             (3.47, 0.0, 2.2), (3.49, 0.2, 1.4), (3.52, -0.1, 0.9), (3.56, -0.2, 1.0), (3.62, -0.3, 0.7),
             (3.66, -0.2, 1.3), (3.69, -0.1, 1.8), (3.73, -0.2, 4.6), (3.76, -0.3, 0.9), (3.8, -0.1, 1.5),
             (3.85, -0.3, 0.8), (3.89, -0.2, 4.1), (3.93, -0.1, 1.2), (3.97, 0.2, 2.0), (4.02, 0.3, 3.0),
             (4.05, 0.2, 1.5), (4.09, 0.3, 3.0), (4.13, 0.2, 1.3), (4.2, 0.3, 1.0), (4.3, 0.2, 0.9),
             (4.4, 0.3, 1.1), (4.46, 0.6, 1.8), (4.5, 0.8, 2.3), (4.55, 0.7, 1.9), (4.58, 0.8, 2.2),
             (4.62, 0.6, 3.0), (4.7, 0.2, 0.8), (4.78, 0.3, 0.9), (4.85, 0.5, 1.1), (4.92, 0.6, 1.2),
             (4.97, 0.7, 1.1),
             (2.48, -0.6, 0.5), (2.52, -0.7, 0.4), (2.57, -0.5, 0.6), (2.62, -0.6, 0.5), (2.67, -0.8, 0.4),
             (2.72, -0.5, 0.6), (2.77, -0.7, 0.3), (2.82, -0.6, 0.5), (2.87, -0.5, 0.6), (2.92, -0.7, 0.4),
             (2.97, -0.5, 0.5), (3.02, -0.6, 0.4), (3.07, -0.5, 0.6), (3.12, -0.6, 0.4), (3.17, -0.5, 0.6),
             (3.33, 0.0, 1.4), (3.37, 0.2, 2.5), (3.42, 0.1, 1.6), (3.45, 0.2, 1.9), (3.5, 0.1, 1.2),
             (3.54, 0.0, 1.1), (3.67, -0.1, 1.1), (3.71, -0.1, 1.5), (3.75, -0.2, 1.2), (3.78, -0.1, 1.0),
             (3.82, -0.2, 0.9), (3.91, 0.0, 1.3), (3.95, 0.3, 1.8), (3.99, 0.2, 1.6), (4.0, 0.3, 2.2),
             (4.07, 0.2, 1.7), (4.11, 0.3, 1.4), (4.48, 0.7, 2.0), (4.52, 0.8, 2.4), (4.57, 0.7, 1.7),
             (4.6, 0.8, 2.6), (4.64, 0.5, 1.5)]
spikes_78 = [(0.01, -0.5, 0.4), (0.03, -0.2, 0.6), (0.05, -0.6, 0.3), (0.07, -0.3, 0.9), (0.09, -0.7, 0.2),
             (0.11, -0.4, 0.6), (0.13, -0.9, 0.3), (0.15, -0.5, 0.8), (0.17, -0.3, 0.5), (0.19, -0.8, 0.4),
             (0.21, -0.6, 1.0), (0.23, -0.4, 0.6), (0.25, -1.0, 0.5), (0.27, -0.5, 2.3), (0.29, -0.8, 0.4),
             (0.31, -0.6, 0.9), (0.33, -1.1, 0.3), (0.35, -0.4, 0.8), (0.37, -0.9, 0.5), (0.39, -0.6, 1.1),
             (0.41, -1.0, 0.4), (0.43, -0.5, 0.9), (0.45, -0.8, 0.6), (0.47, -0.4, 1.3), (0.49, -1.1, 0.5),
             (0.51, -0.6, 1.0), (0.53, -0.3, 1.5), (0.55, -0.5, 1.2), (0.57, -0.4, 1.4),
             (0.02, -0.4, 0.5), (0.04, -0.7, 0.2), (0.06, -0.3, 0.7), (0.08, -0.5, 0.4), (0.10, -0.8, 0.3),
             (0.12, -0.3, 0.9), (0.14, -0.6, 0.5), (0.16, -0.9, 0.2), (0.18, -0.4, 0.7), (0.20, -0.7, 0.4),
             (0.22, -0.5, 1.6), (0.24, -0.8, 0.3), (0.26, -0.4, 0.8), (0.28, -0.9, 0.5), (0.30, -0.6, 1.2),
             (0.32, -0.3, 0.6), (0.34, -1.0, 0.4), (0.36, -0.5, 1.0), (0.38, -0.7, 0.3), (0.40, -0.4, 0.9),
             (0.42, -0.9, 0.6), (0.44, -0.6, 1.7), (0.46, -0.3, 0.5), (0.48, -0.8, 1.0), (0.50, -0.5, 0.7),
             (0.52, -0.9, 1.3), (0.54, -0.4, 0.8), (0.56, -0.6, 1.9), (0.58, -0.3, 0.9),
             (1.12, -0.9, 0.2), (1.18, -1.6, -0.5), (1.22, -1.2, -0.4), (1.26, -1.5, -0.6), (1.3, -1.1, -0.3),
             (1.34, -1.6, -0.5), (1.45, -0.9, 0.1), (1.5, -0.6, 0.4), (1.55, -0.9, 0.2), (1.6, -0.7, 0.5),
             (1.65, -0.8, 0.3), (1.7, -0.6, 0.6), (1.75, -0.9, 0.2), (1.8, -0.7, 0.9), (1.85, -0.5, 0.4),
             (1.9, -0.8, 0.6), (1.95, -0.6, 0.3), (2.05, -0.7, 0.6), (2.1, -0.5, 0.2), (2.15, -0.8, 0.5),
             (2.2, -0.6, 1.1), (2.25, -0.7, 0.4), (2.3, -0.5, 0.8), (2.35, -0.8, 0.3), (2.4, -0.6, 0.7),
             (2.47, -0.6, 0.6), (2.49, -0.8, 1.0), (2.51, -0.5, 2.1), (2.53, -0.7, 0.5), (2.55, -0.4, 1.2),
             (2.57, -0.9, 0.6), (2.59, -0.6, 0.9), (2.61, -0.5, 1.8), (2.63, -0.8, 0.7), (2.65, -0.6, 1.0),
             (2.67, -0.4, 0.5), (2.69, -0.7, 1.3), (2.71, -0.5, 0.8), (2.73, -0.9, 2.2), (2.75, -0.6, 0.6),
             (2.77, -0.4, 1.0), (2.79, -0.8, 1.9), (2.81, -0.6, 0.7), (2.83, -0.5, 1.1), (2.85, -0.7, 2.4),
             (2.87, -0.4, 0.8), (2.89, -0.8, 1.2), (2.91, -0.6, 0.6), (2.93, -0.5, 2.6), (2.95, -0.9, 1.0),
             (2.97, -0.6, 0.8), (2.99, -0.4, 2.9), (3.01, -0.7, 0.9), (3.03, -0.5, 1.5), (3.05, -0.8, 2.5),
             (3.07, -0.6, 1.0), (3.09, -0.4, 2.0), (3.11, -0.9, 0.8), (3.13, -0.6, 1.2), (3.15, -0.5, 0.6),
             (3.17, -0.7, 1.0), (3.19, -0.5, 2.4), (3.21, -0.6, 0.8), (3.55, -1.4, 4.97), (3.6, -1.6, -1.2),
             (3.7, -1.6, -1.2), (3.8, -1.5, -1.1), (4.58, -1.6, -0.9)]
spikes_79 = [(0.1, -0.1, 0.3), (0.3, -0.1, 0.4), (0.5, -0.2, 0.3), (0.62, -0.3, 0.6), (0.7, -0.2, 0.4),
             (0.85, -0.5, 0.3), (0.9, -0.3, 0.5), (1.0, -0.2, 0.6), (1.1, -0.2, 0.8), (1.2, 0.1, 0.9),
             (1.3, 0.0, 0.8), (1.4, -0.4, 0.6), (1.45, -0.6, 0.4), (1.5, -0.5, 0.5), (1.54, -0.3, 3.7),
             (1.58, -0.6, 0.7), (1.62, -0.7, 0.6), (1.66, -0.5, 2.1), (1.7, -0.6, 1.4), (1.74, -0.4, 2.1),
             (1.78, -0.7, 0.8), (1.82, -0.6, 1.8), (1.86, -0.5, 1.2), (1.9, -0.7, 1.5), (1.94, -0.5, 1.0),
             (1.98, -0.6, 2.0), (2.04, -0.9, 0.6), (2.08, -0.8, 1.1), (2.12, -0.9, 0.8), (2.16, -0.8, 1.6),
             (2.19, -0.7, 3.2), (2.22, -0.8, 1.4), (2.24, -0.6, 5.0), (2.27, -0.9, 0.9), (2.3, -0.8, 1.8),
             (2.34, -0.7, 1.2), (2.38, -0.9, 2.2), (2.42, -0.8, 0.9), (2.45, -0.6, 1.5), (2.48, -0.7, 1.9),
             (2.52, -0.8, 4.2), (2.56, -0.9, 1.0), (2.6, -0.7, 1.6), (2.64, -0.8, 1.2), (2.66, -0.6, 5.0),
             (2.7, -0.9, 1.4), (2.74, -0.8, 0.9), (2.78, -1.0, 1.7), (2.82, -0.7, 1.1), (2.86, -0.9, 0.8),
             (2.9, -0.8, 1.5), (2.94, -1.0, 1.0), (2.98, -0.8, 2.0), (3.02, -0.9, 0.9), (3.06, -1.0, 1.3),
             (3.1, -0.8, 0.8), (3.14, -1.0, 1.2), (3.18, -0.9, 0.7), (3.22, -1.1, 0.5), (3.58, -1.0, 1.4),
             (3.65, -1.1, -0.8), (4.38, -0.8, 0.2), (4.73, -0.8, 1.5),
             (2.47, -0.8, 1.2), (2.5, -0.9, 0.8), (2.54, -0.7, 1.6), (2.58, -0.8, 1.1), (2.62, -0.9, 2.3),
             (2.68, -0.8, 1.0), (2.72, -0.7, 1.8), (2.76, -0.9, 1.2), (2.8, -1.0, 0.9), (2.84, -0.8, 1.4),
             (2.88, -0.9, 1.1), (2.92, -0.7, 0.8), (2.96, -0.9, 1.3), (3.0, -1.0, 1.0), (3.04, -0.8, 1.6),
             (3.08, -1.0, 0.9), (3.12, -0.9, 1.1), (3.16, -1.0, 0.8), (3.2, -0.9, 0.9)]
spikes_80 = [(0.7, -0.3, 0.1), (0.9, -0.1, 0.3), (1.1, 0.0, 0.5), (1.15, -0.1, 0.6), (1.2, 0.1, 0.6),
             (1.3, 0.0, 0.5), (1.4, 0.1, 0.6), (1.5, 0.0, 0.5), (1.6, 0.1, 0.6), (1.7, -0.2, 0.7),
             (1.8, 0.0, 0.6), (1.9, 0.1, 0.5), (2.05, -0.2, 0.5), (2.15, 0.0, 0.6), (2.25, 0.1, 0.7),
             (2.35, -0.1, 0.6), (2.45, 0.0, 0.7), (2.55, 0.2, 0.8), (2.65, 0.1, 0.9), (2.75, 0.2, 0.8),
             (2.85, 0.1, 0.9), (2.95, 0.2, 0.8), (3.06, 0.2, 1.9), (3.15, 0.2, 0.7), (3.3, 0.1, 0.6),
             (3.45, 0.2, 1.4), (3.5, 0.3, 1.2), (3.55, 0.4, 1.1), (3.6, 0.3, 1.0), (3.7, 0.2, 0.9),
             (3.8, 0.1, 0.8), (3.9, 0.2, 1.0), (4.04, 0.1, 2.3), (4.08, 0.2, 2.8), (4.15, 0.1, 0.8),
             (4.2, 0.0, 0.7), (4.33, -0.2, 3.0), (4.42, -0.2, 3.9), (4.5, -0.2, 0.4), (4.65, -0.2, 4.8),
             (4.7, 0.1, 0.6), (4.75, 0.0, 0.7), (4.8, 0.1, 0.5), (4.85, -0.1, 0.6), (4.9, 0.0, 0.5),
             (4.95, -0.2, 0.6),
             (2.5, 0.1, 0.9), (2.6, 0.2, 0.7), (2.7, 0.1, 1.0), (2.8, 0.3, 0.9), (2.9, 0.2, 0.7),
             (3.0, 0.1, 0.8), (3.1, 0.2, 0.9), (3.2, 0.0, 0.7), (3.35, 0.1, 0.8), (3.4, 0.2, 0.9),
             (3.48, 0.3, 1.6), (3.52, 0.4, 1.3), (3.57, 0.3, 1.1), (3.65, 0.2, 1.0), (3.75, 0.2, 0.8),
             (3.85, 0.1, 0.9), (3.95, 0.2, 0.8), (4.0, 0.1, 0.9), (4.12, 0.2, 0.7), (4.25, -0.1, 0.6),
             (4.3, -0.2, 1.2), (4.38, -0.2, 0.9), (4.46, -0.3, 0.6), (4.55, -0.3, 0.5), (4.6, -0.2, 0.6),
             (4.72, 0.0, 0.8), (4.78, 0.1, 0.7), (4.82, 0.0, 0.9), (4.88, 0.1, 0.7), (4.93, 0.0, 0.8),
             (4.98, 0.1, 0.6)]
spikes_85 = [(0.01, -3.9, -2.0), (0.2, -4.2, -3.6), (0.22, -4.7, -3.9), (0.49, -4.4, 0.1), (0.56, -4.7, 0.0),
             (0.58, -4.6, 0.1), (0.6, -4.7, -0.2), (0.91, -4.4, 0.4), (0.93, -4.0, 0.3), (0.95, -4.6, 0.5),
             (0.97, -4.2, 0.4), (0.99, -4.7, 0.3), (1.01, -4.3, 0.4), (1.39, 0.4, 1.2), (1.41, 0.4, 2.0),
             (1.43, 0.4, 1.5), (1.45, 0.3, 1.0), (1.69, -0.2, 0.5), (2.05, -0.5, 1.0), (2.08, 0.2, 3.6),
             (2.1, -0.3, 1.3), (2.13, 0.0, 1.0), (2.16, -0.4, 1.5), (2.19, -0.2, 1.2), (2.22, -0.5, 0.8),
             (2.25, 0.0, 1.7), (2.28, -0.3, 1.4), (2.31, 0.0, 4.1), (2.34, -0.2, 1.8), (2.37, 0.2, 2.1),
             (2.4, -0.4, 1.5), (2.43, -0.2, 1.1), (2.45, -0.7, 0.9)]
spikes_83 = [(3.32, -1.3, -1.0), (3.34, -1.25, -1.0), (3.36, -1.3, -1.0)]
spikes_87 = [(3.68, -1.23, -0.17), (4.06, -1.63, 0.18), (4.6, 0.4, 0.9)]
spikes_88 = [(0.12, -3.0, 0.1), (0.6, -2.0, 0.0), (0.82, -2.1, 0.0), (1.63, -1.4, 0.0), (1.64, -2.2, 0.0),
             (1.76, -1.3, 0.0), (1.75, -1.2, -0.1), (1.99, -2.9, 0.1), (2.03, -1.0, 0.3), (2.07, -1.6, 0.0),
             (2.1, -1.0, 0.2), (2.12, -0.8, 0.4), (2.17, -1.3, 0.0), (2.2, -1.0, 0.3), (2.24, -0.9, 0.2),
             (2.27, -1.5, 0.0), (2.31, -0.3, 1.1), (2.35, -0.5, 0.3)]
spikes_89 = [(1.76, 0.05, 0.4)]
spikes_116 = [(3.49, -3.9, -0.27), (3.50, -0.9, -0.1), (3.52, -0.8, -0.1), (3.55, -3.9, -0.27),
              (3.57, -0.9, -0.2), (3.60, -1.5, -0.27), (3.62, -0.6, -0.2)]
spikes_135 = [(2.545, -1.25, -0.2), (2.555, -1.0, -0.2), (2.565, -0.8, -0.2), (2.575, -0.9, -0.2),
              (2.59, -0.5, -0.2), (2.70, -1.4, -0.2), (2.71, -1.0, -0.2), (2.72, -0.6, -0.2),
              (2.745, -0.9, -0.2)]

noisy_paths = [(68, trace_68), (70, trace_70), (70, trace_70b), (71, trace_71), (72, trace_72),
               (73, trace_73), (74, trace_74), (75, trace_75), (76, trace_76), (77, trace_77),
               (78, trace_78), (79, trace_79), (80, trace_80), (85, trace_85), (87, trace_87),
               (88, trace_88)]
spike_sets = [(45, spikes_45), (47, spikes_47), (48, spikes_48), (61, spikes_61), (68, spikes_68),
              (70, spikes_70), (71, spikes_71), (72, spikes_72), (73, spikes_73), (74, spikes_74),
              (75, spikes_75), (76, spikes_76), (77, spikes_77), (78, spikes_78), (79, spikes_79),
              (80, spikes_80), (83, spikes_83), (85, spikes_85), (87, spikes_87), (88, spikes_88),
              (89, spikes_89), (116, spikes_116), (135, spikes_135)]

# ---------------------------------------------------------------- build table
recs = []
uid = [0]


def add_unit(row, pts):
    col = trace_colors[row % 4]
    for t, off in pts:
        recs.append((uid[0], t, row + 0.5 + off, col))
    uid[0] += 1


segs = [(r, 0, 5, 0) for r in full_rows] + quiet_segments
runs = []
for row, t0, t1, off in segs:
    if runs and runs[-1][0] == row and abs(runs[-1][1][-1][0] - t0) < 1e-9:
        runs[-1][1].extend([(t0, off), (t1, off)])
    else:
        runs.append((row, [(t0, off), (t1, off)]))
for row, pts in runs:
    add_unit(row, pts)
for row, pts in noisy_paths:
    add_unit(row, pts)
for row, sp in spike_sets:
    for t, lo, hi in sp:
        add_unit(row, [(t, lo), (t, hi)])

df = pd.DataFrame(recs, columns=["unit", "minute", "y", "color"])
palette = {"black": "#000000", "red": "#ff0000", "blue": "#0000ff", "green": "#008000"}

# ---------------------------------------------------------------- draw
fig = plt.figure(figsize=(W / 100, H / 100), dpi=100)
ax = fig.add_axes([50 / W, 1 - 1850 / H, 1200 / W, 1800 / H])
sns.lineplot(data=df, x="minute", y="y", units="unit", estimator=None, sort=False,
             hue="color", palette=palette, legend=False, linewidth=0.8, ax=ax)

ax.set_xlim(0, 5)
ax.set_ylim(144, 0)
ax.set_xlabel("")
ax.set_ylabel("")
ax.set_yticks([])
ax.set_xticks(range(6))
ax.set_xticklabels(minute_labels, fontsize=10.5, family=MONO)
ax.set_xticks(np.arange(0, 5.0001, 1 / 60), minor=True)
ax.tick_params(axis="x", which="major", length=6, width=1, direction="out", pad=3, color="black")
ax.tick_params(axis="x", which="minor", length=3.5, width=0.7, direction="out", color="black")
ax.grid(axis="x", which="major", color="#888888", linewidth=0.9)
ax.set_axisbelow(True)
for side in ["left", "right"]:
    ax.spines[side].set_color("#888888")
    ax.spines[side].set_linewidth(1)
ax.spines["top"].set_color("black")
ax.spines["top"].set_linewidth(1)
ax.spines["bottom"].set_color("black")
ax.spines["bottom"].set_linewidth(1.6)


def ftext(x, y, s, **kw):
    fig.text(x / W, 1 - y / H, s, **kw)


for i, line in enumerate(title_lines):
    ftext(50, 12 + 15 * i, line, fontsize=8.4, family=MONO, fontweight="bold", va="center", ha="left")

ftext(0, 57, "CST", fontsize=8, family=MONO, fontweight="bold", va="center", ha="left")
ftext(1265, 57, "UTC", fontsize=8, family=MONO, fontweight="bold", va="center", ha="left")

for k in range(11):
    row = 12 * (k + 1)
    yy = 56.25 + 12.5 * row
    ftext(49, yy, cst_labels[k], fontsize=8.6, family=MONO, fontweight="bold", va="center", ha="right")
    ftext(1253, yy, utc_labels[k], fontsize=8.6, family=MONO, fontweight="bold", va="center", ha="left")

for row, s in enumerate(right_values):
    if s:
        ftext(1327, 56.25 + 12.5 * row, s, fontsize=6.2, family=MONO, va="center", ha="right")

ftext(613, 1887, "TIME (MINUTES)", fontsize=8.6, family=MONO, va="center", ha="left")
ftext(720, 1888, "Traces clipped at plus/minus 5 vertical divisions", fontsize=5.9, family=MONO,
      va="center", ha="left")
ftext(21, 1888, "Each Vertical Division = 1000.00 microvolts", fontsize=5.9, family=MONO,
      va="center", ha="left")

fig.savefig("out.png", dpi=100)
